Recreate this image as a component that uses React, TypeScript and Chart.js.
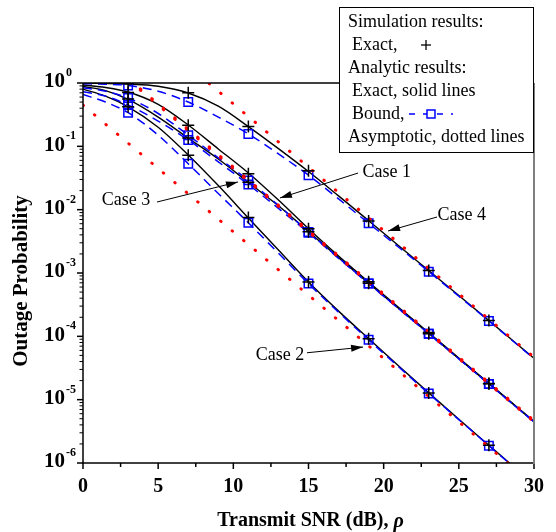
import { useEffect, useRef } from 'react';
import { Chart, registerables } from 'chart.js';
Chart.register(...registerables);

// ---------- data ----------
const snr = [0, 1.5, 3, 5, 7, 9, 11, 13, 15, 17, 19, 21, 23, 25, 27, 29, 30];
const markerSnr = [3, 7, 11, 15, 19, 23, 27];
const asymSnr = [0, 30];

const exactCase1 = [0.93, 0.85, 0.72, 0.46, 0.217, 0.091, 0.038, 0.0142, 5.0e-3, 1.85e-3, 7.2e-4, 2.85e-4, 1.14e-4, 4.55e-5, 1.82e-5, 7.2e-6, 4.55e-6];
const boundCase1 = [0.84, 0.74, 0.58, 0.33, 0.15, 0.066, 0.029, 0.0117, 4.45e-3, 1.74e-3, 6.85e-4, 2.74e-4, 1.1e-4, 4.43e-5, 1.77e-5, 7.05e-6, 4.47e-6];
const exactCase2 = [0.8, 0.62, 0.42, 0.2, 0.073, 0.024, 7.4e-3, 2.3e-3, 7.2e-4, 2.5e-4, 9.2e-5, 3.4e-5, 1.28e-5, 4.9e-6, 1.9e-6, 7.4e-7, 4.6e-7];
const boundCase2 = [0.66, 0.5, 0.34, 0.15, 0.053, 0.018, 6.2e-3, 2.05e-3, 6.8e-4, 2.4e-4, 8.8e-5, 3.3e-5, 1.25e-5, 4.85e-6, 1.88e-6, 7.3e-7, 4.55e-7];
const exactCase3 = [0.88, 0.76, 0.55, 0.29, 0.135, 0.063, 0.027, 0.0115, 4.5e-3, 1.75e-3, 6.9e-4, 2.75e-4, 1.11e-4, 4.45e-5, 1.78e-5, 7.1e-6, 4.5e-6];
const boundCase3 = [0.73, 0.62, 0.45, 0.25, 0.126, 0.057, 0.025, 0.0105, 4.3e-3, 1.7e-3, 6.8e-4, 2.72e-4, 1.1e-4, 4.42e-5, 1.77e-5, 7.05e-6, 4.47e-6];
const exactCase4 = [0.99, 0.985, 0.965, 0.89, 0.695, 0.43, 0.205, 0.092, 0.04, 0.0165, 6.7e-3, 2.7e-3, 1.09e-3, 4.4e-4, 1.77e-4, 7.1e-5, 4.5e-5];
const boundCase4 = [0.975, 0.955, 0.915, 0.74, 0.5, 0.29, 0.157, 0.076, 0.035, 0.0148, 6.1e-3, 2.55e-3, 1.05e-3, 4.3e-4, 1.75e-4, 7.0e-5, 4.45e-5];

const asymCase1 = [4.68, 4.68e-6];
const asymCase2 = [0.447, 4.47e-7];
const asymCase3 = [4.47, 4.47e-6];
const asymCase4 = [46.8, 4.68e-5];

const simCase1 = [0.71, 0.215, 0.037, 5.0e-3, 7.3e-4, 1.15e-4, 1.8e-5];
const simCase2 = [0.42, 0.072, 7.5e-3, 7.2e-4, 9.2e-5, 1.28e-5, 1.9e-6];
const simCase3 = [0.56, 0.135, 0.027, 4.5e-3, 6.9e-4, 1.1e-4, 1.78e-5];
const simCase4 = [0.97, 0.7, 0.205, 0.041, 6.6e-3, 1.1e-3, 1.78e-4];

const xTickLabels = ['0', '5', '10', '15', '20', '25', '30'];
const xTickValues = [0, 5, 10, 15, 20, 25, 30];
const yTickExponents = [0, -1, -2, -3, -4, -5, -6];

const caseLabels = ['Case 1', 'Case 2', 'Case 3', 'Case 4'];
// label anchor (snr, prob) and arrow from/to (snr, prob)
const caseLabelAt = [[20.2, 0.0394], [13.1, 5.0e-5], [2.86, 0.0141], [25.2, 8.3e-3]];
const caseArrowFrom = [[18.3, 0.0379], [14.9, 5.5e-5], [4.92, 0.0132], [23.55, 7.66e-3]];
const caseArrowTo = [[13.1, 0.01528], [18.63, 6.76e-5], [10.31, 0.0274], [20.29, 4.6e-3]];

const xTitle = 'Transmit SNR (dB), ';
const xTitleSymbol = 'ρ';
const yTitle = 'Outage Probability';

const FONT = '"Liberation Serif", "Times New Roman", serif';

const zip = (xs: number[], ys: number[]) => xs.map((x, i) => ({ x, y: ys[i] }));

function arrow(ctx: CanvasRenderingContext2D, x1: number, y1: number, x2: number, y2: number) {
  ctx.beginPath();
  ctx.moveTo(x1, y1);
  ctx.lineTo(x2, y2);
  ctx.stroke();
  const ang = Math.atan2(y2 - y1, x2 - x1);
  const L = 12, W = 3.5;
  const c = Math.cos(ang), s = Math.sin(ang);
  ctx.beginPath();
  ctx.moveTo(x2, y2);
  ctx.lineTo(x2 - L * c + W * s, y2 - L * s - W * c);
  ctx.lineTo(x2 - L * c - W * s, y2 - L * s + W * c);
  ctx.closePath();
  ctx.fill();
}

const decorPlugin = {
  id: 'decor',
  afterDatasetsDraw(chart: any) {
    const { ctx, chartArea: a, scales } = chart;
    const xs = scales.x, ys = scales.y;
    ctx.save();
    ctx.strokeStyle = '#000';
    ctx.fillStyle = '#000';
    ctx.lineCap = 'butt';
    const seg = (x1: number, y1: number, x2: number, y2: number) => {
      ctx.beginPath(); ctx.moveTo(x1, y1); ctx.lineTo(x2, y2); ctx.stroke();
    };
    // x ticks
    ctx.lineWidth = 1.5;
    for (let i = 0; i < xTickValues.length; i++) {
      const px = xs.getPixelForValue(xTickValues[i]);
      seg(px, a.bottom, px, a.bottom + 6);
      if (i < xTickValues.length - 1) {
        const pm = xs.getPixelForValue((xTickValues[i] + xTickValues[i + 1]) / 2);
        seg(pm, a.bottom, pm, a.bottom + 4);
      }
    }
    // y ticks
    for (let i = 0; i < yTickExponents.length; i++) {
      const e = yTickExponents[i];
      const py = ys.getPixelForValue(Math.pow(10, e));
      ctx.lineWidth = 1.5;
      seg(a.left - 6, py, a.left, py);
      if (e > -6) {
        ctx.lineWidth = 1;
        for (let k = 2; k <= 9; k++) {
          const pm = ys.getPixelForValue(k * Math.pow(10, e - 1));
          seg(a.left - 3.5, pm, a.left, pm);
        }
      }
    }
    // frame
    ctx.lineWidth = 1.5;
    seg(a.left, a.top, a.left, a.bottom + 0.75);
    seg(a.left - 0.75, a.bottom, a.right, a.bottom);
    seg(a.left, a.top, a.right, a.top);
    ctx.strokeStyle = '#7f7f7f';
    ctx.lineWidth = 2;
    seg(a.right, a.top, a.right, a.bottom + 1);
    ctx.strokeStyle = '#000';

    // x tick labels
    ctx.font = `bold 20px ${FONT}`;
    ctx.textAlign = 'center';
    ctx.textBaseline = 'middle';
    for (let i = 0; i < xTickValues.length; i++) {
      ctx.fillText(xTickLabels[i], xs.getPixelForValue(xTickValues[i]), a.bottom + 24);
    }
    // y tick labels 10^e
    for (let i = 0; i < yTickExponents.length; i++) {
      const py = ys.getPixelForValue(Math.pow(10, yTickExponents[i]));
      ctx.font = `bold 21px ${FONT}`;
      ctx.textAlign = 'right';
      ctx.textBaseline = 'middle';
      ctx.fillText('10', 65, py - 1);
      ctx.font = `bold 12px ${FONT}`;
      ctx.textAlign = 'left';
      ctx.fillText(String(yTickExponents[i]).replace('-', '-'), 66, py - 10);
    }
    // axis titles
    ctx.textBaseline = 'middle';
    ctx.font = `bold 20px ${FONT}`;
    const w1 = ctx.measureText(xTitle).width;
    ctx.font = `italic bold 20px ${FONT}`;
    const w2 = ctx.measureText(xTitleSymbol).width;
    const cx = (a.left + a.right) / 2 + 2;
    const startX = cx - (w1 + w2) / 2;
    ctx.textAlign = 'left';
    ctx.font = `bold 20px ${FONT}`;
    ctx.fillText(xTitle, startX, 521);
    ctx.font = `italic bold 20px ${FONT}`;
    ctx.fillText(xTitleSymbol, startX + w1, 522);

    ctx.save();
    ctx.translate(22, 281);
    ctx.rotate(-Math.PI / 2);
    ctx.textAlign = 'center';
    ctx.font = `bold 21px ${FONT}`;
    ctx.fillText(yTitle, 0, 0);
    ctx.restore();

    // case annotations
    ctx.font = `18px ${FONT}`;
    ctx.textAlign = 'center';
    ctx.textBaseline = 'middle';
    ctx.lineWidth = 1;
    for (let i = 0; i < caseLabels.length; i++) {
      const [lx, ly] = caseLabelAt[i];
      ctx.fillText(caseLabels[i], xs.getPixelForValue(lx), ys.getPixelForValue(ly));
      const [fx, fy] = caseArrowFrom[i];
      const [tx, ty] = caseArrowTo[i];
      arrow(ctx, xs.getPixelForValue(fx), ys.getPixelForValue(fy), xs.getPixelForValue(tx), ys.getPixelForValue(ty));
    }

    // legend box
    const bx = 339, by = 7, bw = 194, bh = 145;
    ctx.fillStyle = '#fff';
    ctx.fillRect(bx, by, bw, bh);
    ctx.strokeStyle = '#000';
    ctx.lineWidth = 1;
    ctx.strokeRect(bx + 0.5, by + 0.5, bw, bh);
    ctx.fillStyle = '#000';
    ctx.font = `18px ${FONT}`;
    ctx.textAlign = 'left';
    ctx.textBaseline = 'middle';
    const rows = [22, 45, 68, 91, 114, 137];
    ctx.fillText('Simulation results:', 348, rows[0]);
    ctx.fillText('Exact,', 352, rows[1]);
    ctx.lineWidth = 1.3;
    seg(421, rows[1], 431, rows[1]);
    seg(426, rows[1] - 5, 426, rows[1] + 5);
    ctx.fillText('Analytic results:', 348, rows[2]);
    ctx.fillText('Exact, solid lines', 352, rows[3]);
    ctx.fillText('Bound,', 352, rows[4]);
    ctx.strokeStyle = '#0000ff';
    ctx.lineWidth = 1.5;
    ctx.setLineDash([6, 8]);
    seg(409, rows[4], 453, rows[4]);
    ctx.setLineDash([]);
    ctx.fillStyle = '#fff';
    ctx.fillRect(427, rows[4] - 4, 8, 8);
    ctx.strokeRect(427, rows[4] - 4, 8, 8);
    ctx.fillStyle = '#000';
    ctx.fillText('Asymptotic, dotted lines', 348, rows[5]);
    ctx.restore();
  },
};

export default function App() {
  const ref = useRef<HTMLCanvasElement | null>(null);
  useEffect(() => {
    if (!ref.current) return;
    const exacts = [exactCase1, exactCase2, exactCase3, exactCase4];
    const bounds = [boundCase1, boundCase2, boundCase3, boundCase4];
    const asyms = [asymCase1, asymCase2, asymCase3, asymCase4];
    const sims = [simCase1, simCase2, simCase3, simCase4];
    const datasets: any[] = [];
    sims.forEach((s, i) => datasets.push({
      label: `sim ${i + 1}`,
      data: zip(markerSnr, s),
      showLine: false,
      pointStyle: 'cross',
      pointRadius: 6,
      pointBorderWidth: 1.5,
      pointBorderColor: '#000',
      order: 0,
    }));
    asyms.forEach((s, i) => datasets.push({
      label: `asym ${i + 1}`,
      data: zip(asymSnr, s),
      borderColor: '#ff0000',
      borderWidth: 3,
      borderDash: [0.5, 14.5],
      borderCapStyle: 'round',
      pointRadius: 0,
      fill: false,
      order: 1,
    }));
    bounds.forEach((s, i) => datasets.push({
      label: `bound ${i + 1}`,
      data: zip(snr, s),
      borderColor: '#0000ff',
      borderWidth: 1.5,
      borderDash: [9, 6],
      cubicInterpolationMode: 'monotone',
      pointStyle: 'rect',
      pointRadius: (c: any) => (markerSnr.includes(snr[c.dataIndex]) ? 6 : 0),
      pointBorderColor: '#0000ff',
      pointBackgroundColor: 'rgba(255,255,255,0)',
      pointBorderWidth: 1.5,
      fill: false,
      order: 2,
    }));
    exacts.forEach((s, i) => datasets.push({
      label: `exact ${i + 1}`,
      data: zip(snr, s),
      borderColor: '#000',
      borderWidth: 1.4,
      cubicInterpolationMode: 'monotone',
      pointRadius: 0,
      fill: false,
      order: 3,
    }));
    const chart = new Chart(ref.current, {
      type: 'line',
      data: { datasets },
      options: {
        animation: false,
        responsive: false,
        events: [],
        layout: { padding: { left: 83, right: 22, top: 83, bottom: 69 } },
        plugins: { legend: { display: false }, tooltip: { enabled: false } },
        scales: {
          x: { type: 'linear', min: 0, max: 30, display: false },
          y: { type: 'logarithmic', min: 1e-6, max: 1, display: false },
        },
      },
      plugins: [decorPlugin],
    });
    return () => chart.destroy();
  }, []);
  return (
    <div style={{ position: 'fixed', left: 0, top: 0, width: 556, height: 532, background: '#fff' }}>
      <canvas ref={ref} width={556} height={532} style={{ width: 556, height: 532 }} />
    </div>
  );
}
